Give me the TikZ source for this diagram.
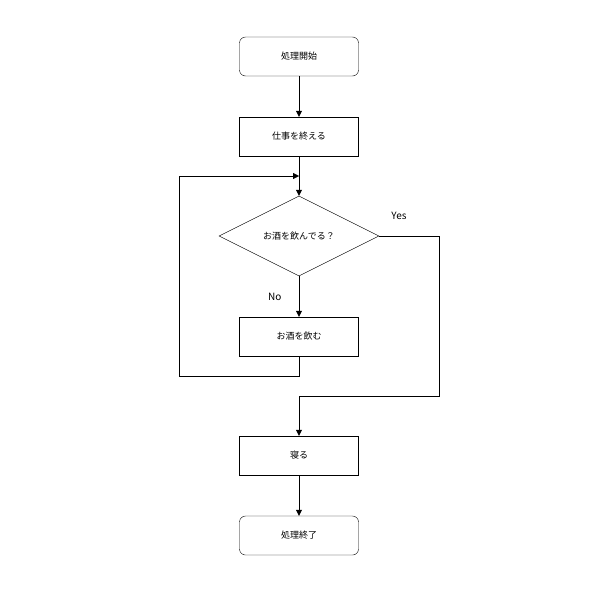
\documentclass[tikz,border=0pt]{standalone}
\usepackage{fontspec}
\setmainfont{Noto Sans CJK JP}
\usetikzlibrary{positioning, arrows.meta, shapes.geometric}
\tikzset{
    proc/.style={draw, minimum width=119pt, minimum height=39pt, font=\fontsize{9}{10}\selectfont},
    term/.append style={proc, rounded corners=6pt},
    cond/.style={draw, diamond, aspect=2, minimum width=160pt, minimum height=80pt, inner sep=0pt, font=\fontsize{9}{10}\selectfont},
    flow/.style={-{Triangle[length=6pt, width=6pt]}},
    lbl/.style={font=\fontsize{10}{12}\selectfont},
}
\begin{document}
\begin{tikzpicture}[x=1pt, y=-1pt]
    \useasboundingbox (0,0) rectangle (600,600);
    \tikzset{node distance=41pt}

    \node[term] (start) at (299,56.5) {処理開始};
    \node[proc] (work) at (299,136.5) {仕事を終える};
    \coordinate (join) at (299,176);
    \node[cond] (ask) at (299,236) {お酒を飲んでる？};
    \node[proc] (drink) at (299,336.5) {お酒を飲む};
    \node[proc] (sleep) at (299,455.5) {寝る};
    \node[term] (stop) at (299,535.5) {処理終了};

    \draw[flow] (start) -- (work);
    \draw (work) -- (join);
    \draw[flow] (join) -- (ask);
    \draw[flow] (ask) -- node[lbl, pos=0.5, left=14pt] {No} (drink);
    \draw[flow] (drink.south) |- (299,376) -- (179,376) |- (join);
    \draw[flow] (ask.east) -- (439,236) |- (299,396) -- (sleep);
    \node[lbl] (yes) at (399,216) {Yes};
    \draw[flow] (sleep) -- (stop);
\end{tikzpicture}
\end{document}
